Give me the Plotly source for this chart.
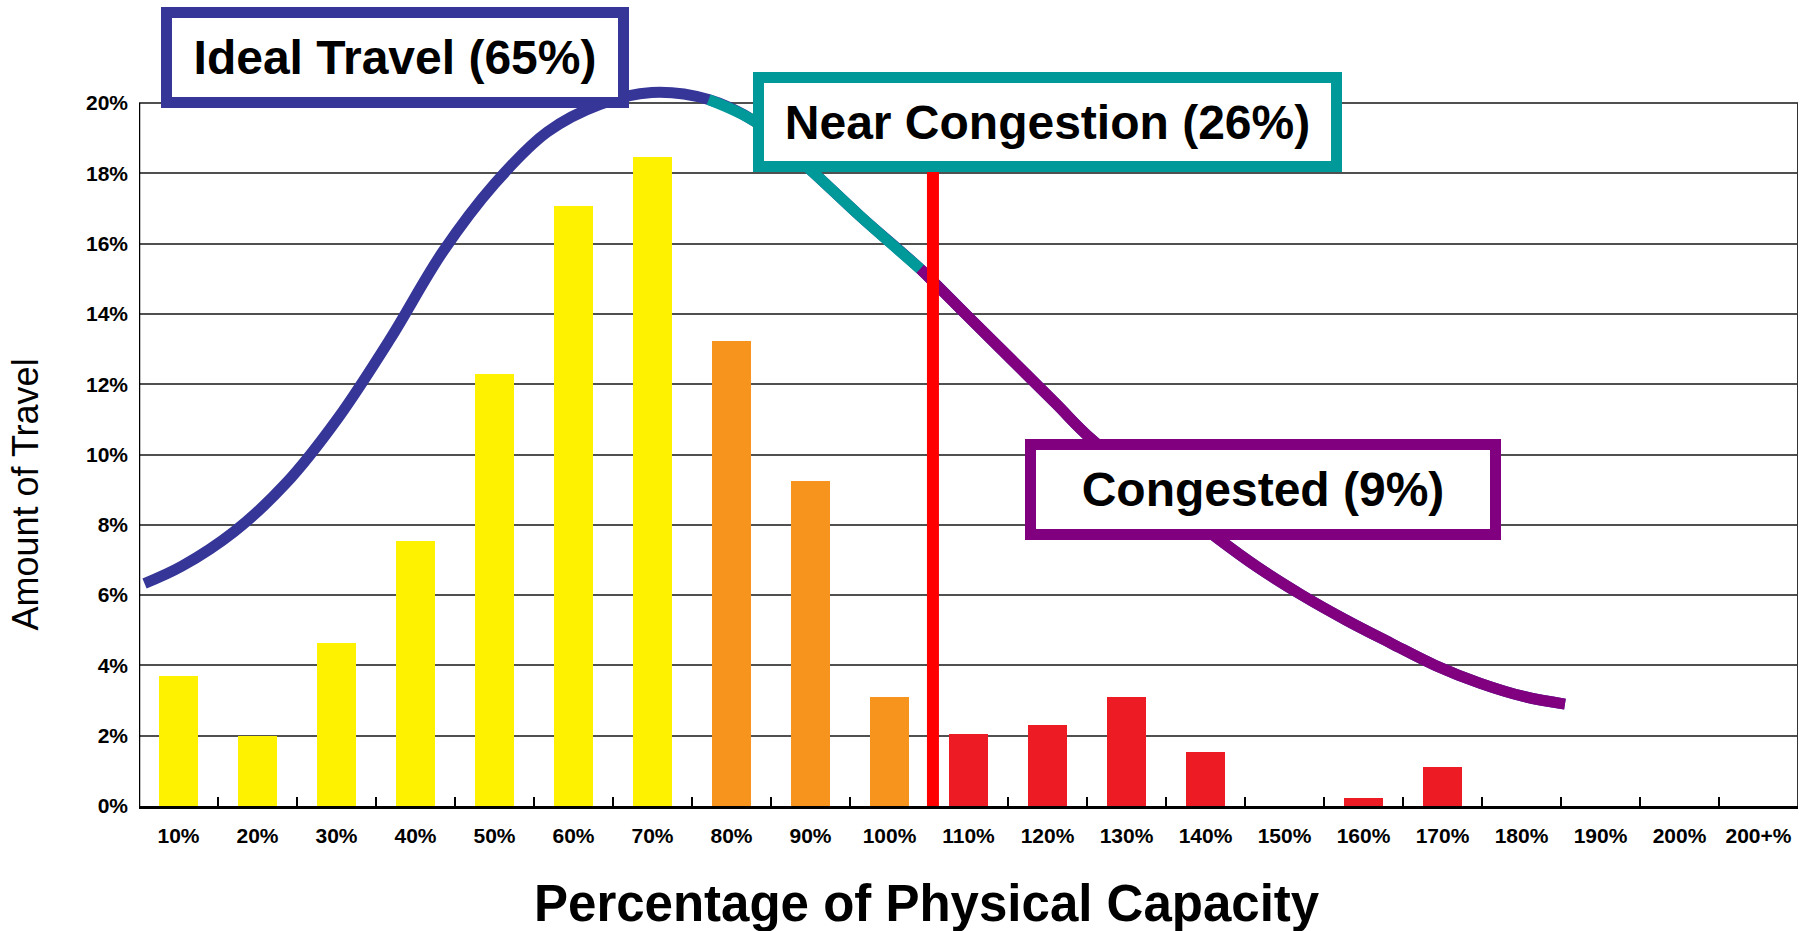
import plotly.graph_objects as go

# Share of travel in each volume/capacity band
categories = ["10%", "20%", "30%", "40%", "50%", "60%", "70%", "80%", "90%", "100%",
              "110%", "120%", "130%", "140%", "150%", "160%", "170%", "180%", "190%",
              "200%", "200+%"]
travel_share = [3.70, 2.00, 4.63, 7.55, 12.28, 17.08, 18.46, 13.22, 9.24, 3.10,
                2.05, 2.30, 3.10, 1.55, 0.00, 0.22, 1.10, 0.00, 0.00, 0.00, 0.00]
band = ["ideal"] * 7 + ["near"] * 3 + ["congested"] * 11

# Smoothed distribution curve (x in category-index units, y in percent)
curve_x = [-0.43, 0.04, 0.70, 1.36, 2.02, 2.68, 3.34, 4.00, 4.67, 5.33, 5.99, 6.71,
           7.30, 8.00, 8.63, 9.39, 9.98, 10.55, 11.11, 11.56, 13.17, 13.65, 14.22,
           14.78, 15.35, 15.91, 16.48, 17.04, 17.55]
curve_y = [6.33, 6.82, 7.80, 9.18, 11.04, 13.29, 15.75, 17.70, 19.18, 19.96, 20.30, 20.10,
           19.47, 18.10, 16.78, 15.28, 13.96, 12.69, 11.44, 10.43, 7.59, 6.81, 6.00,
           5.29, 4.63, 4.00, 3.49, 3.11, 2.90]
near_start = 6.71      # curve colour changes here (ideal -> near congestion)
congested_start = 9.39  # and here (near congestion -> congested)
capacity_line_x = 9.55  # physical capacity marker between 100% and 110%

# label text, centre (paper coords), inner box size, border colour
labels = [
    ("Ideal Travel (65%)", 0.1546, 1.034, 446, 79, "#363699"),
    ("Near Congestion (26%)", 0.5475, 0.9452, 567, 78, "#009999"),
    ("Congested (9%)", 0.6775, 0.4372, 454, 79, "#800080"),
]

BAR_COLORS = {"ideal": "#FFF200", "near": "#F7941D", "congested": "#ED1C24"}
FONT = "Liberation Sans, Arial, sans-serif"

idx = list(range(len(categories)))

fig = go.Figure()
fig.add_trace(go.Bar(
    x=idx, y=travel_share, width=0.49,
    marker=dict(color=[BAR_COLORS[b] for b in band], line=dict(width=0)),
    showlegend=False, hoverinfo="skip",
))

def segment(lo, hi):
    pts = [(x, y) for x, y in zip(curve_x, curve_y) if lo <= x <= hi]
    return [p[0] for p in pts], [p[1] for p in pts]

# full curve in blue underneath, coloured sections on top
fig.add_trace(go.Scatter(x=curve_x, y=curve_y, mode="lines",
                         line=dict(color="#363699", width=11, shape="spline"),
                         showlegend=False, hoverinfo="skip"))
for lo, hi, col in [(near_start, congested_start, "#009999"),
                    (congested_start, max(curve_x), "#800080")]:
    sx, sy = segment(lo, hi)
    fig.add_trace(go.Scatter(x=sx, y=sy, mode="lines",
                             line=dict(color=col, width=11, shape="spline"),
                             showlegend=False, hoverinfo="skip"))

n = len(categories)
# frame lines limited to the 0-20% band
fig.add_shape(type="line", xref="x", yref="y", x0=-0.5, x1=-0.5, y0=0, y1=20,
              line=dict(color="black", width=2.5), layer="above")
fig.add_shape(type="line", xref="x", yref="y", x0=n - 0.5, x1=n - 0.5, y0=0, y1=20,
              line=dict(color="#333333", width=2), layer="above")
# capacity marker
fig.add_shape(type="line", xref="x", yref="y", x0=capacity_line_x, x1=capacity_line_x,
              y0=-0.2, y1=18.5, line=dict(color="#FF0000", width=12), layer="above")

for text, x, y, w, h, col in labels:
    fig.add_annotation(x=x, y=y, xref="paper", yref="paper", text=f"<b>{text}</b>",
                       showarrow=False, width=w, height=h, align="center",
                       valign="middle", xanchor="center", yanchor="middle",
                       bgcolor="white", bordercolor=col,
                       borderwidth=11, borderpad=0,
                       font=dict(family=FONT, size=48, color="black"))

fig.add_annotation(x=0.475, y=-0.135, xref="paper", yref="paper",
                   text="<b>Percentage of Physical Capacity</b>", showarrow=False,
                   xanchor="center", yanchor="middle",
                   font=dict(family=FONT, size=51, color="black"))
fig.add_annotation(x=-0.0684, y=0.4296, xref="paper", yref="paper",
                   text="Amount of Travel", showarrow=False, textangle=-90,
                   xanchor="center", yanchor="middle",
                   font=dict(family=FONT, size=36, color="black"))

fig.update_layout(
    width=1814, height=931,
    margin=dict(l=139, r=16, t=82, b=125),
    paper_bgcolor="white", plot_bgcolor="white",
    bargap=0,
)
fig.update_xaxes(
    range=[-0.5, n - 0.5], tickmode="array", tickvals=idx, ticktext=categories,
    ticks="", showgrid=False, zeroline=False,
    showline=True, linecolor="black", linewidth=3,
    tickfont=dict(family=FONT, size=21, color="black", weight="bold"),
    ticklabelstandoff=9,
    minor=dict(tickmode="array", tickvals=[i + 0.5 for i in range(n - 1)],
               ticks="inside", ticklen=9, tickwidth=2, tickcolor="black",
               showgrid=False),
)
fig.update_yaxes(
    range=[0, 20.6], tickmode="array", tickvals=list(range(0, 21, 2)),
    ticktext=[f"{v}%" for v in range(0, 21, 2)],
    showgrid=True, gridcolor="#505050", gridwidth=1.6, zeroline=False,
    showline=False, ticks="",
    tickfont=dict(family=FONT, size=21, color="black", weight="bold"),
    ticklabelstandoff=10,
)

fig.write_html("out.html")
